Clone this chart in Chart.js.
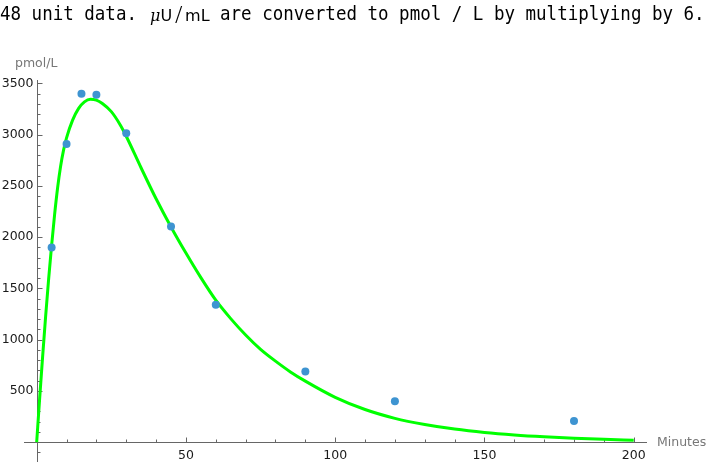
<!DOCTYPE html>
<html>
<head>
<meta charset="utf-8">
<script src="https://cdn.jsdelivr.net/npm/chart.js@4/dist/chart.umd.min.js"></script>
<style>
  html, body { margin: 0; padding: 0; background: #fff; }
  #wrap { position: relative; width: 710px; height: 466px; overflow: hidden; }
  #chart { position: absolute; left: 0; top: 0; }
  .ttl { position: absolute; top: 1px; white-space: pre; color: #000;
         font-family: 'DejaVu Sans Mono', monospace; font-size: 20px; line-height: 24px;
         transform: scaleX(0.875); transform-origin: 0 0; }
  .math { position: absolute; top: 1px; white-space: pre; color: #000;
          font-family: 'DejaVu Sans', sans-serif; font-size: 16px; line-height: 24px; }
</style>
</head>
<body>
<div id="wrap">
  <canvas id="chart" width="710" height="466"></canvas>
  <div class="ttl" style="left:0px">48 unit data.</div>
  <div class="math" style="left:150px"><span style="font-family:'DejaVu Serif',serif;font-style:italic">μ</span>U<span style="font-family:'Liberation Serif',serif;font-size:25px;position:relative;top:2px;margin:0 3px">/</span>mL</div>
  <div class="ttl" style="left:220px">are converted to pmol / L by multiplying by 6.</div>
</div>
<script>
// ---- data ----
const timeMinutes   = [5, 10, 15, 20, 30, 45, 60, 90, 120, 180];
const insulinPmol   = [1900, 2910, 3400, 3390, 3015, 2105, 1340, 690, 400, 205];

const fitTimes = [0,1,2,3,4,5,6,7,8,9,10,12,14,16,18,20,22,25,28,30,35,40,45,50,55,60,65,
                  70,75,80,85,90,100,110,120,130,140,150,160,170,180,190,200];
const fitPmol  = [0,430,840,1230,1590,1920,2220,2480,2690,2850,2970,3140,3255,3320,3345,3337,3305,3225,3095,2985,2675,2375,2100,1845,1605,1385,1205,
                  1045,905,790,685,595,437,318,232,172,127,94,70,52,38,27,18];

const xMajorTicks = [50, 100, 150, 200];
const yMajorTicks = [500, 1000, 1500, 2000, 2500, 3000, 3500];
const xAxisTitle = 'Minutes';
const yAxisTitle = 'pmol/L';

// ---- plot ranges ----
const X_MIN = -4.25, X_MAX = 204.45;
const Y_MIN = -194, Y_MAX = 3534;

const axesPlugin = {
  id: 'mmaAxes',
  beforeDatasetsDraw(chart) {
    const { ctx, chartArea: a, scales: { x, y } } = chart;
    const x0 = Math.round(x.getPixelForValue(0)) + 0.5;
    const y0 = Math.round(y.getPixelForValue(0)) + 0.5;
    ctx.save();
    ctx.strokeStyle = '#666666';
    ctx.lineWidth = 1;
    ctx.beginPath();
    ctx.moveTo(a.left, y0); ctx.lineTo(a.right, y0);
    ctx.moveTo(x0, a.top); ctx.lineTo(x0, a.bottom);
    for (let t = 10; t <= 200; t += 10) {
      const px = Math.round(x.getPixelForValue(t)) + 0.5;
      const len = xMajorTicks.includes(t) ? 5 : 3;
      ctx.moveTo(px, y0); ctx.lineTo(px, y0 - len);
    }
    for (let v = -100; v <= 3500; v += 100) {
      if (v === 0) continue;
      const py = Math.round(y.getPixelForValue(v)) + 0.5;
      const len = yMajorTicks.includes(v) ? 5 : 3;
      ctx.moveTo(x0, py); ctx.lineTo(x0 + len, py);
    }
    ctx.stroke();

    ctx.fillStyle = '#1a1a1a';
    ctx.font = '12.5px "DejaVu Sans"';
    ctx.textAlign = 'center';
    ctx.textBaseline = 'middle';
    xMajorTicks.forEach(t => ctx.fillText(String(t), x.getPixelForValue(t), y0 + 13));
    ctx.textAlign = 'right';
    yMajorTicks.forEach(v => ctx.fillText(String(v), x0 - 4, y.getPixelForValue(v)));

    ctx.fillStyle = '#777777';
    ctx.textAlign = 'left';
    ctx.fillText(yAxisTitle, 15, 64);
    ctx.fillText(xAxisTitle, a.right + 10, y0 + 0.5);
    ctx.restore();
  }
};

new Chart(document.getElementById('chart'), {
  type: 'scatter',
  data: {
    datasets: [
      {
        label: 'measured',
        data: timeMinutes.map((t, i) => ({ x: t, y: insulinPmol[i] })),
        pointRadius: 4,
        pointHoverRadius: 4,
        backgroundColor: '#3e94d1',
        borderWidth: 0,
        order: 0
      },
      {
        label: 'fit',
        data: fitTimes.map((t, i) => ({ x: t, y: fitPmol[i] })),
        showLine: true,
        pointRadius: 0,
        borderColor: '#00ff00',
        borderWidth: 3,
        cubicInterpolationMode: 'monotone',
        fill: false,
        order: 1
      }
    ]
  },
  options: {
    responsive: false,
    animation: false,
    devicePixelRatio: 1,
    layout: { padding: { left: 24, right: 63, top: 80, bottom: 2 } },
    plugins: { legend: { display: false }, tooltip: { enabled: false }, title: { display: false } },
    scales: {
      x: { type: 'linear', min: X_MIN, max: X_MAX, display: false },
      y: { type: 'linear', min: Y_MIN, max: Y_MAX, display: false }
    }
  },
  plugins: [axesPlugin]
});
</script>
</body>
</html>
